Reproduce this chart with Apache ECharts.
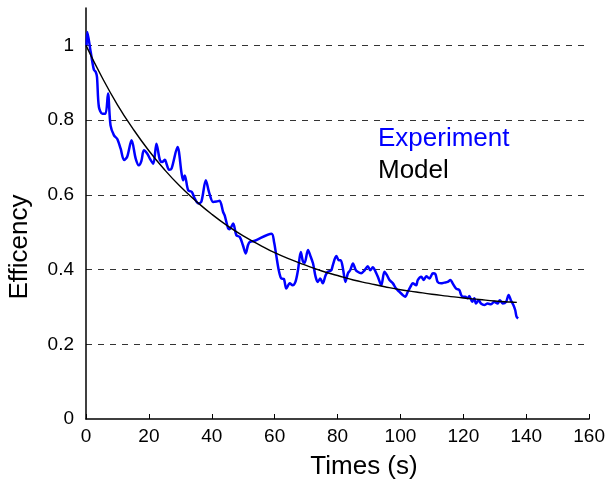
<!DOCTYPE html>
<html>
<head>
<meta charset="utf-8">
<script src="https://cdn.jsdelivr.net/npm/echarts@6/dist/echarts.min.js"></script>
<style>
html,body{margin:0;padding:0;background:#fff;}
#chart{width:608px;height:483px;}
</style>
</head>
<body>
<div id="chart"></div>
<script>
// Experimental curve (time in s, efficiency)
var expT = [0.2,0.4,1.5,2.5,3.1,3.5,4.1,5.2,6.2,7.0,7.8,8.9,9.9,11.0,12.1,13.1,14.5,15.8,16.8,17.6,18.4,19.5,20.3,21.4,22.4,23.5,24.3,25.1,25.6,26.4,27.2,29.1,30.4,30.9,31.4,32.5,33.6,34.6,35.7,36.7,38.1,39.1,40.4,41.5,42.5,43.6,44.1,45.2,45.7,46.8,47.8,48.9,49.9,50.8,51.5,52.1,53.7,59.0,59.8,60.5,61.3,62.1,62.9,63.7,64.8,65.7,66.6,67.4,68.3,69.0,69.5,70.6,71.3,72.2,73.0,73.7,74.5,75.3,76.2,76.9,78.0,78.5,79.6,80.4,81.0,81.7,82.5,83.3,84.0,84.9,85.7,86.4,87.5,88.6,89.6,90.4,91.2,92.1,92.8,93.9,94.9,95.7,96.5,97.6,98.6,99.7,100.7,101.5,102.3,103.2,103.9,105.0,105.5,106.6,107.4,108.2,109.2,110.3,111.1,111.8,112.9,114.0,115.0,115.9,116.6,117.7,118.7,119.3,119.8,120.6,121.4,121.9,122.8,123.5,124.0,124.9,125.6,126.7,127.7,128.8,129.8,130.9,131.6,132.5,133.6,134.4,135.1,135.9,136.5,136.9,137.4];
var expY = [1.000,1.036,0.982,0.935,0.929,0.915,0.835,0.817,0.817,0.871,0.786,0.759,0.750,0.724,0.693,0.702,0.746,0.697,0.679,0.690,0.719,0.710,0.697,0.683,0.737,0.693,0.688,0.694,0.683,0.667,0.670,0.728,0.657,0.639,0.652,0.612,0.608,0.590,0.577,0.582,0.639,0.608,0.581,0.582,0.584,0.554,0.545,0.510,0.508,0.523,0.492,0.487,0.465,0.443,0.465,0.474,0.477,0.496,0.474,0.438,0.398,0.376,0.375,0.349,0.363,0.358,0.367,0.398,0.447,0.421,0.418,0.452,0.438,0.416,0.381,0.367,0.376,0.363,0.385,0.394,0.398,0.412,0.436,0.425,0.425,0.403,0.367,0.390,0.398,0.416,0.400,0.394,0.390,0.398,0.409,0.398,0.406,0.394,0.381,0.358,0.394,0.385,0.372,0.363,0.349,0.340,0.332,0.327,0.340,0.354,0.363,0.358,0.372,0.381,0.372,0.382,0.376,0.390,0.388,0.367,0.363,0.365,0.367,0.372,0.363,0.349,0.345,0.332,0.327,0.327,0.323,0.329,0.314,0.323,0.309,0.318,0.309,0.305,0.309,0.307,0.314,0.309,0.318,0.309,0.314,0.332,0.318,0.305,0.291,0.274,0.269];
// Model curve (read at regular times)
var modelT = [0,5,10,15,20,25,30,35,40,45,50,55,60,65,70,75,80,85,90,95,100,105,110,115,120,125,130,135,137];
var modelY = [1.000,0.916,0.841,0.776,0.718,0.667,0.622,0.583,0.548,0.517,0.490,0.467,0.445,0.427,0.411,0.396,0.384,0.372,0.363,0.354,0.346,0.340,0.334,0.329,0.324,0.320,0.316,0.313,0.312];
var seriesNames = ['Experiment','Model'];
var xTitle = 'Times (s)';
var yTitle = 'Efficency';

function zip(a,b){ var r=[]; for(var i=0;i<a.length;i++) r.push([a[i],b[i]]); return r; }

var FONT = '"Liberation Sans", Arial, Helvetica, sans-serif';
var chart = echarts.init(document.getElementById('chart'), null, {renderer:'canvas'});
chart.setOption({
  animation:false,
  backgroundColor:'#fff',
  grid:{left:86,right:18,top:8,bottom:64,containLabel:false},
  legend:{
    orient:'vertical', left:368, top:121, itemWidth:0, itemHeight:0, itemGap:6,
    icon:'rect', selectedMode:false,
    textStyle:{fontFamily:FONT,fontSize:26},
    data:[{name:seriesNames[0],textStyle:{color:'#0000ff'}},{name:seriesNames[1],textStyle:{color:'#000'}}]
  },
  xAxis:{
    type:'value', min:0, max:160, interval:20,
    axisLine:{lineStyle:{color:'#000',width:1.5}},
    axisTick:{show:true,inside:true,length:5,lineStyle:{color:'#000'}},
    axisLabel:{fontFamily:FONT,fontSize:19,color:'#000',margin:8},
    splitLine:{show:false}
  },
  yAxis:{
    type:'value', min:0, max:1.1, interval:0.2,
    axisLine:{show:true,lineStyle:{color:'#000',width:1.5}},
    axisTick:{show:false},
    axisLabel:{fontFamily:FONT,fontSize:19,color:'#000',margin:12,showMaxLabel:false,
      formatter:function(v){return v>1.05?'':String(Math.round(v*10)/10);}},
    splitLine:{show:true,showMinLine:false,showMaxLine:false,lineStyle:{color:'#333',type:[6,6],width:1}}
  },
  graphic:[{
    type:'text', x:20, y:247, rotation:Math.PI/2,
    style:{text:yTitle, fontFamily:FONT, fontSize:26, fill:'#000', align:'center', verticalAlign:'middle'}
  },{
    type:'text', x:364, y:467,
    style:{text:xTitle, fontFamily:FONT, fontSize:26, fill:'#000', align:'center', verticalAlign:'middle'}
  }],
  series:[
    {name:seriesNames[0], type:'line', data:zip(expT,expY), showSymbol:false, smooth:0.3,
     lineStyle:{color:'#0000ff',width:2.5}, itemStyle:{color:'#0000ff'}, z:2},
    {name:seriesNames[1], type:'line', data:zip(modelT,modelY), showSymbol:false, smooth:true,
     lineStyle:{color:'#000',width:1.4}, itemStyle:{color:'#000'}, z:3}
  ]
});
</script>
</body>
</html>
